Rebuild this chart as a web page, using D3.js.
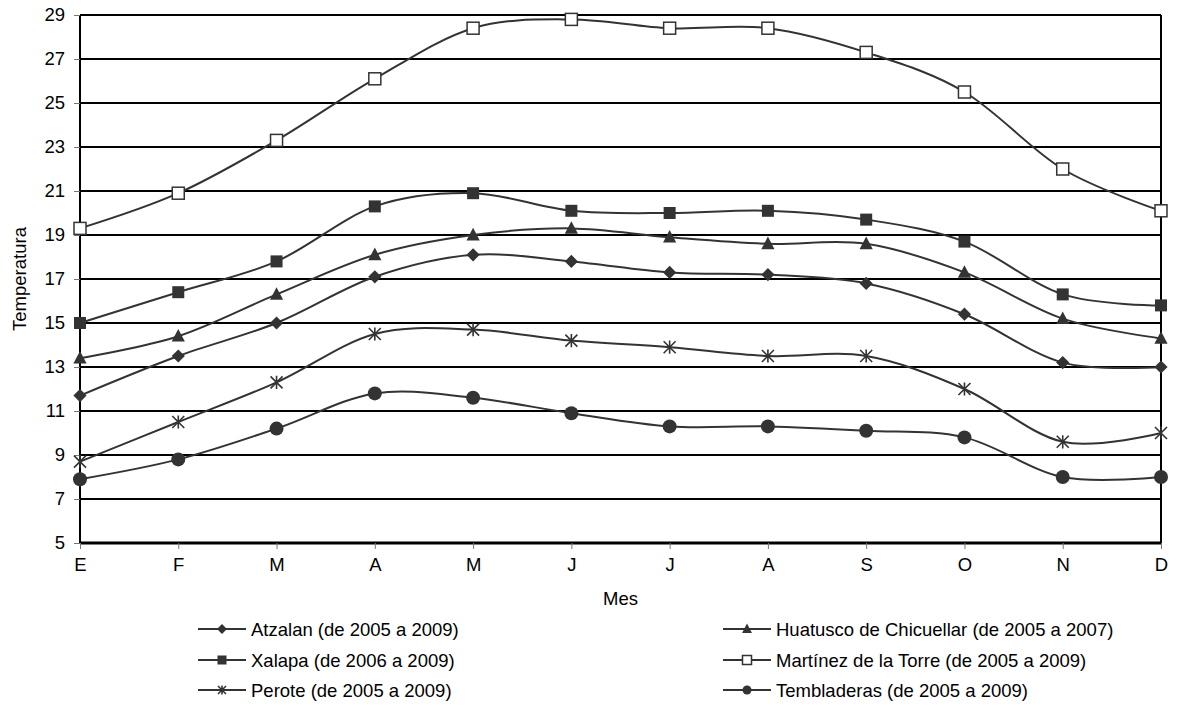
<!DOCTYPE html>
<html>
<head>
<meta charset="utf-8">
<script src="https://cdn.jsdelivr.net/npm/d3@7"></script>
<style>
  body { margin: 0; background: #fff; }
  text { font-family: "Liberation Sans", Arial, sans-serif; fill: #000; }
</style>
</head>
<body>
<script>
// month labels on the x axis
var months = ["E", "F", "M", "A", "M", "J", "J", "A", "S", "O", "N", "D"];
var yTicks = [5, 7, 9, 11, 13, 15, 17, 19, 21, 23, 25, 27, 29];

var atzalan     = [11.7, 13.5, 15.0, 17.1, 18.1, 17.8, 17.3, 17.2, 16.8, 15.4, 13.2, 13.0];
var huatusco    = [13.4, 14.4, 16.3, 18.1, 19.0, 19.3, 18.9, 18.6, 18.6, 17.3, 15.2, 14.3];
var xalapa      = [15.0, 16.4, 17.8, 20.3, 20.9, 20.1, 20.0, 20.1, 19.7, 18.7, 16.3, 15.8];
var martinez    = [19.3, 20.9, 23.3, 26.1, 28.4, 28.8, 28.4, 28.4, 27.3, 25.5, 22.0, 20.1];
var perote      = [8.7, 10.5, 12.3, 14.5, 14.7, 14.2, 13.9, 13.5, 13.5, 12.0, 9.6, 10.0];
var tembladeras = [7.9, 8.8, 10.2, 11.8, 11.6, 10.9, 10.3, 10.3, 10.1, 9.8, 8.0, 8.0];

var seriesNames = [
  "Atzalan (de 2005 a 2009)",
  "Huatusco de Chicuellar (de 2005 a 2007)",
  "Xalapa (de 2006 a 2009)",
  "Martínez de la Torre (de 2005 a 2009)",
  "Perote (de 2005 a 2009)",
  "Tembladeras (de 2005 a 2009)"
];
var seriesValues = [atzalan, huatusco, xalapa, martinez, perote, tembladeras];
var seriesMarkers = ["diamond", "triangle", "square", "openSquare", "star", "circle"];

var W = 1177, H = 705;
var margin = {top: 15, right: 16, bottom: 162, left: 80};
var width = W - margin.left - margin.right;
var height = H - margin.top - margin.bottom;
var ink = "#333";
var fontSize = "18.5px";

var svg = d3.select("body").append("svg")
  .attr("width", W).attr("height", H);

var g = svg.append("g")
  .attr("transform", "translate(" + margin.left + "," + margin.top + ")");

var x = d3.scalePoint().domain(d3.range(months.length)).range([0, width]);
var y = d3.scaleLinear().domain([5, 29]).range([height, 0]);

// horizontal grid
g.selectAll(".grid").data(yTicks.slice(1))
  .enter().append("line")
  .attr("x1", 0).attr("x2", width)
  .attr("y1", function(d) { return y(d); })
  .attr("y2", function(d) { return y(d); })
  .attr("stroke", "#000").attr("stroke-width", 2);

// right border
g.append("line")
  .attr("x1", width).attr("x2", width)
  .attr("y1", 0).attr("y2", height)
  .attr("stroke", "#000").attr("stroke-width", 2);

// y axis
var yAxis = g.append("g")
  .call(d3.axisLeft(y).tickValues(yTicks).tickSize(6).tickPadding(9));
yAxis.select(".domain").attr("stroke-width", 2).attr("d", "M0,0V" + height);
yAxis.selectAll(".tick line").attr("stroke", "#777");
yAxis.selectAll("text").attr("font-size", fontSize)
  .style("font-family", "Liberation Sans, Arial, sans-serif");

// x axis
var xAxis = g.append("g")
  .attr("transform", "translate(0," + height + ")")
  .call(d3.axisBottom(x).tickFormat(function(i) { return months[i]; }).tickSize(6).tickPadding(9));
xAxis.select(".domain").attr("stroke-width", 3).attr("d", "M0,0H" + width);
xAxis.selectAll(".tick line").attr("stroke", "#777");
xAxis.selectAll("text").attr("font-size", fontSize)
  .style("font-family", "Liberation Sans, Arial, sans-serif");

// axis titles
svg.append("text")
  .attr("transform", "translate(26," + (margin.top + height / 2) + ") rotate(-90)")
  .attr("text-anchor", "middle")
  .attr("font-size", fontSize)
  .text("Temperatura");

svg.append("text")
  .attr("x", margin.left + width / 2)
  .attr("y", 605)
  .attr("text-anchor", "middle")
  .attr("font-size", fontSize)
  .text("Mes");

// marker drawing helper
function drawMarker(sel, type, s) {
  if (type === "diamond") {
    sel.append("path").attr("d", "M0," + (-s * 0.55) + "L" + (s * 0.55) + ",0L0," + (s * 0.55) + "L" + (-s * 0.55) + ",0Z")
      .attr("fill", ink);
  } else if (type === "triangle") {
    sel.append("path").attr("d", "M0," + (-s * 0.6) + "L" + (s * 0.55) + "," + (s * 0.45) + "L" + (-s * 0.55) + "," + (s * 0.45) + "Z")
      .attr("fill", ink);
  } else if (type === "square") {
    sel.append("rect").attr("x", -s / 2).attr("y", -s / 2).attr("width", s).attr("height", s)
      .attr("fill", ink);
  } else if (type === "openSquare") {
    sel.append("rect").attr("x", -s / 2).attr("y", -s / 2).attr("width", s).attr("height", s)
      .attr("fill", "#fff").attr("stroke", ink).attr("stroke-width", 1.5);
  } else if (type === "circle") {
    sel.append("circle").attr("r", s / 2).attr("fill", ink);
  } else if (type === "star") {
    var r = s / 2;
    var p = "M" + (-r) + "," + (-r) + "L" + r + "," + r +
            "M" + r + "," + (-r) + "L" + (-r) + "," + r +
            "M0," + (-r * 1.1) + "V" + (r * 1.1);
    sel.append("path").attr("d", p).attr("stroke", ink).attr("stroke-width", 1.6).attr("fill", "none");
  }
}

var line = d3.line()
  .x(function(d, i) { return x(i); })
  .y(function(d) { return y(d); })
  .curve(d3.curveCardinal.tension(0));

seriesValues.forEach(function(vals, k) {
  g.append("path")
    .datum(vals)
    .attr("d", line)
    .attr("fill", "none")
    .attr("stroke", ink)
    .attr("stroke-width", 2);
});

seriesValues.forEach(function(vals, k) {
  var size = seriesMarkers[k] === "star" ? 12 : (seriesMarkers[k] === "circle" ? 14 : 12);
  g.selectAll(".m" + k).data(vals)
    .enter().append("g")
    .attr("transform", function(d, i) { return "translate(" + x(i) + "," + y(d) + ")"; })
    .each(function() { drawMarker(d3.select(this), seriesMarkers[k], size); });
});

// legend
var legendX = [198, 723];
var legendY = [629, 660, 690];
seriesNames.forEach(function(name, k) {
  var lg = svg.append("g")
    .attr("transform", "translate(" + legendX[k % 2] + "," + legendY[Math.floor(k / 2)] + ")");
  lg.append("line").attr("x1", 0).attr("x2", 48).attr("y1", 0).attr("y2", 0)
    .attr("stroke", ink).attr("stroke-width", 2);
  var mg = lg.append("g").attr("transform", "translate(24,0)");
  drawMarker(mg, seriesMarkers[k], seriesMarkers[k] === "star" ? 8 : 9);
  lg.append("text").attr("x", 53).attr("y", 6.5)
    .attr("font-size", fontSize)
    .text(name);
});
</script>
</body>
</html>
